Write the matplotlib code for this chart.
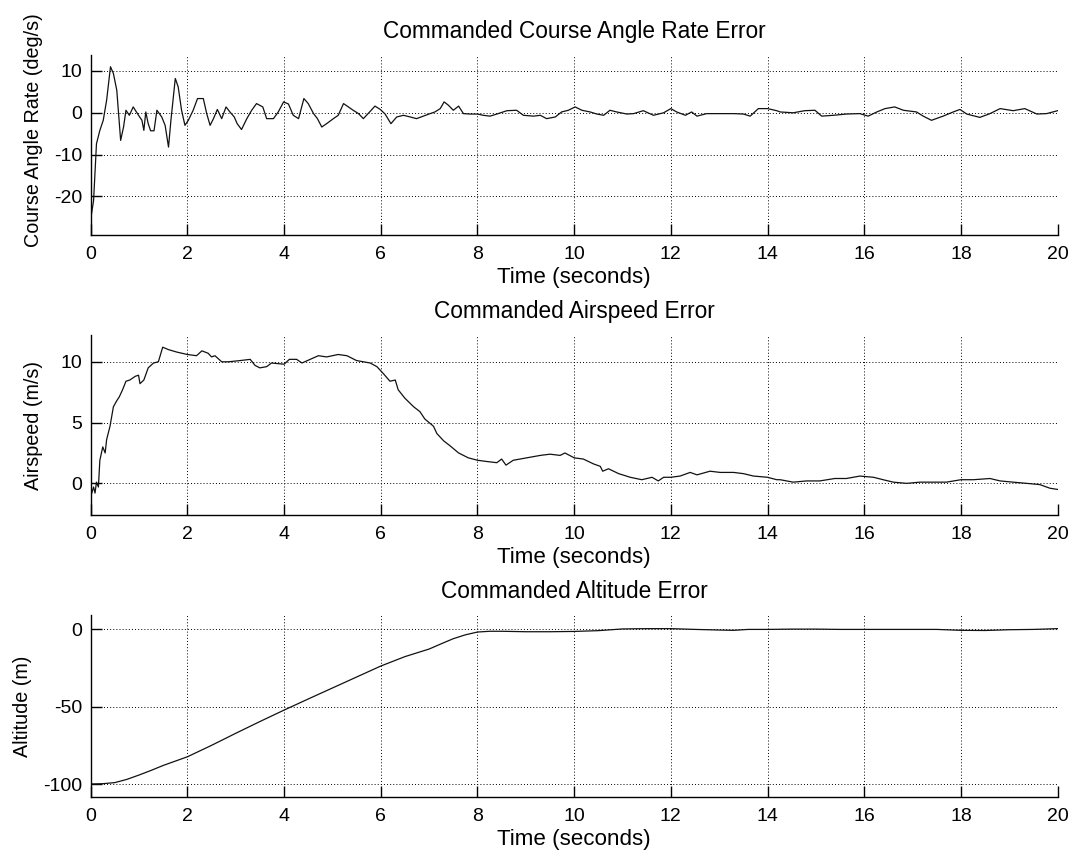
import matplotlib
matplotlib.use("Agg")
import matplotlib.pyplot as plt

plt.rcParams['font.family'] = ['Liberation Sans', 'DejaVu Sans']
plt.rcParams['font.size'] = 14
plt.rcParams['axes.unicode_minus'] = False

# course angle rate error (deg/s)
t_rate = [0.0, 0.06, 0.12, 0.19, 0.26, 0.33, 0.41, 0.47, 0.54, 0.62, 0.68, 0.73, 0.8,
          0.88, 0.99, 1.06, 1.1, 1.14, 1.19, 1.24, 1.31, 1.37, 1.47, 1.54, 1.61, 1.66,
          1.75, 1.81, 1.88, 1.95, 2.02, 2.12, 2.21, 2.33, 2.4, 2.47, 2.54, 2.62, 2.71,
          2.8, 2.88, 2.97, 3.03, 3.12, 3.23, 3.33, 3.43, 3.56, 3.64, 3.78, 3.88, 3.99,
          4.09, 4.19, 4.3, 4.41, 4.5, 4.61, 4.69, 4.78, 4.88, 5.02, 5.12, 5.23, 5.33,
          5.43, 5.54, 5.64, 5.77, 5.88, 5.99, 6.09, 6.21, 6.33, 6.47, 6.61, 6.74, 6.88,
          7.02, 7.12, 7.23, 7.31, 7.4, 7.5, 7.61, 7.71, 7.85, 8.0, 8.12, 8.26, 8.4,
          8.61, 8.81, 8.95, 9.16, 9.3, 9.43, 9.61, 9.74, 9.88, 10.02, 10.16, 10.33,
          10.47, 10.61, 10.74, 10.88, 11.09, 11.23, 11.43, 11.64, 11.85, 12.0, 12.12,
          12.3, 12.43, 12.54, 12.74, 13.02, 13.3, 13.5, 13.64, 13.81, 14.0, 14.19,
          14.26, 14.53, 14.77, 14.98, 15.12, 15.36, 15.63, 15.91, 16.08, 16.26, 16.43,
          16.63, 16.81, 17.08, 17.22, 17.39, 17.63, 17.84, 17.98, 18.12, 18.39, 18.6,
          18.81, 19.08, 19.32, 19.57, 19.77, 20.0]
rate_err = [-25.4, -21.0, -7.4, -4.2, -1.8, 3.0, 11.0, 9.4, 5.4, -6.6, -3.4, 0.6, -0.6,
            1.4, -0.6, -1.8, -4.2, 0.2, -2.6, -4.3, -4.3, 0.6, -1.0, -3.0, -8.2, -1.8,
            8.2, 6.2, 0.6, -3.0, -1.8, 0.6, 3.4, 3.4, -0.2, -3.0, -1.4, 0.8, -1.4,
            1.4, 0.2, -1.0, -2.6, -4.0, -1.4, 0.6, 2.2, 1.4, -1.4, -1.4, 0.2, 2.6,
            2.1, -0.6, -1.4, 3.4, 2.2, -0.2, -1.4, -3.4, -2.6, -1.4, -0.6, 2.2, 1.4,
            0.6, -0.2, -1.4, 0.2, 1.6, 0.8, -0.3, -2.6, -1.0, -0.6, -1.0, -1.4, -0.8,
            -0.2, 0.2, 1.0, 2.6, 1.8, 0.6, 1.6, -0.2, -0.3, -0.3, -0.6, -0.8, -0.3,
            0.5, 0.6, -0.6, -0.8, -0.6, -1.4, -1.0, 0.2, 0.6, 1.4, 0.6, 0.2,
            -0.3, -0.6, 0.6, 0.2, -0.3, -0.2, 0.5, -0.6, 0.0, 1.0, 0.2,
            -0.6, 0.2, -0.8, -0.2, -0.2, -0.2, -0.3, -0.8, 1.0, 1.0, 0.5,
            0.2, 0.0, 0.5, 0.6, -0.8, -0.6, -0.3, -0.2, -0.8, 0.2, 1.0,
            1.4, 0.6, 0.2, -0.8, -1.8, -0.8, 0.2, 0.8, -0.3, -1.1, -0.2,
            1.0, 0.5, 1.0, -0.3, -0.2, 0.5]

# airspeed error (m/s)
t_speed = [0.0, 0.06, 0.09, 0.12, 0.16, 0.19, 0.25, 0.3, 0.33, 0.4, 0.47, 0.54, 0.59,
           0.66, 0.73, 0.81, 0.92, 0.99, 1.02, 1.1, 1.19, 1.3, 1.4, 1.43, 1.49, 1.61,
           1.78, 2.0, 2.19, 2.3, 2.43, 2.5, 2.57, 2.71, 2.85, 3.09, 3.3, 3.4, 3.5, 3.64,
           3.74, 4.0, 4.11, 4.26, 4.37, 4.54, 4.71, 4.88, 5.12, 5.3, 5.5, 5.78, 5.92,
           6.06, 6.19, 6.3, 6.36, 6.5, 6.68, 6.81, 6.91, 7.09, 7.16, 7.3, 7.43, 7.61,
           7.81, 8.0, 8.19, 8.4, 8.5, 8.59, 8.74, 9.02, 9.3, 9.5, 9.71, 9.81, 10.0,
           10.19, 10.4, 10.54, 10.59, 10.71, 10.92, 11.16, 11.4, 11.61, 11.74, 11.85,
           12.0, 12.19, 12.4, 12.54, 12.81, 13.02, 13.3, 13.5, 13.71, 14.0, 14.19,
           14.26, 14.53, 14.81, 15.08, 15.39, 15.63, 15.91, 16.19, 16.39, 16.6, 16.88,
           17.15, 17.43, 17.7, 18.0, 18.26, 18.6, 18.81, 19.08, 19.36, 19.63, 19.84, 20.0]
speed_err = [-1.1, -0.3, -0.8, 0.1, -0.3, 1.9, 3.0, 2.5, 3.6, 4.7, 6.3, 6.8, 7.1,
             7.7, 8.4, 8.5, 8.8, 8.9, 8.2, 8.5, 9.5, 9.9, 10.0, 10.4, 11.2, 11.0,
             10.8, 10.6, 10.5, 10.9, 10.7, 10.4, 10.5, 10.0, 10.0, 10.1, 10.2, 9.7, 9.5, 9.6,
             9.9, 9.8, 10.2, 10.2, 9.9, 10.2, 10.5, 10.4, 10.6, 10.5, 10.1, 9.9, 9.6,
             9.0, 8.4, 8.5, 7.7, 7.0, 6.3, 5.9, 5.3, 4.7, 4.1, 3.5, 3.1, 2.5,
             2.1, 1.9, 1.8, 1.7, 2.0, 1.5, 1.9, 2.1, 2.3, 2.4, 2.3, 2.5, 2.1,
             2.0, 1.6, 1.4, 1.0, 1.2, 0.8, 0.5, 0.3, 0.5, 0.2, 0.5,
             0.5, 0.6, 0.9, 0.7, 1.0, 0.9, 0.9, 0.8, 0.6, 0.5, 0.3,
             0.3, 0.1, 0.2, 0.2, 0.4, 0.4, 0.6, 0.5, 0.3, 0.1, 0.0,
             0.1, 0.1, 0.1, 0.3, 0.3, 0.4, 0.2, 0.1, 0.0, -0.1, -0.4, -0.5]

# altitude error (m)
t_alt = [0.0, 0.25, 0.5, 0.75, 1.0, 1.25, 1.5, 2.0, 2.5, 3.0, 3.5, 4.0, 4.5, 5.0, 5.5,
         6.0, 6.5, 7.0, 7.25, 7.5, 7.75, 8.0, 8.25, 8.5, 9.0, 9.5, 10.0, 10.5, 11.0,
         11.5, 12.0, 12.5, 13.0, 13.3, 13.6, 14.0, 14.5, 15.0, 15.5, 16.0, 16.5, 17.0,
         17.5, 18.0, 18.5, 19.0, 19.5, 20.0]
alt_err = [-100.0, -99.8, -99.1, -97.0, -94.2, -91.2, -88.0, -82.4, -75.0, -67.2, -59.6,
           -52.2, -45.0, -37.9, -30.8, -23.7, -17.6, -12.7, -9.3, -6.0, -3.5, -1.7, -1.2,
           -1.2, -1.5, -1.5, -1.3, -0.8, 0.3, 0.5, 0.5, 0.0, -0.4, -0.6, 0.0, 0.0, 0.2,
           0.2, 0.0, 0.0, 0.0, 0.0, 0.0, -0.6, -0.7, -0.2, 0.0, 0.5]

# (x, y, title, ylabel, ylim, yticks, axes top/bottom, ylabel x/y in axes coords)
panels = [
    (t_rate, rate_err, 'Commanded Course Angle Rate Error', 'Course Angle Rate (deg/s)',
     (-29.2, 13.8), [-20, -10, 0, 10], (0.9357, 0.7255), (-0.049, 0.58)),
    (t_speed, speed_err, 'Commanded Airspeed Error', 'Airspeed (m/s)',
     (-2.6, 12.2), [0, 5, 10], (0.6086, 0.3984), (-0.049, 0.5)),
    (t_alt, alt_err, 'Commanded Altitude Error', 'Altitude (m)',
     (-108.2, 9.3), [-100, -50, 0], (0.2815, 0.0693), (-0.061, 0.5)),
]

fig = plt.figure(figsize=(10.73, 8.56), dpi=100)
left, right = 0.0845, 0.9857

for t, y, title, ylabel, ylim, yticks, (top, bottom), lab_xy in panels:
    ax = fig.add_axes([left, bottom, right - left, top - bottom])
    ax.plot(t, y, color='#111111', lw=0.9)
    ax.set_xlim(0, 20)
    ax.set_ylim(*ylim)
    ax.set_xticks(range(0, 21, 2))
    ax.set_yticks(yticks)
    ax.grid(True, color='black', lw=0.7, linestyle=(0, (1, 2.2)))
    ax.spines['top'].set_visible(False)
    ax.spines['right'].set_visible(False)
    ax.spines['left'].set_linewidth(1.0)
    ax.spines['bottom'].set_linewidth(1.0)
    ax.tick_params(direction='in', length=8, width=1.0, labelsize=14)
    ax.tick_params(axis='x', pad=8)
    ax.tick_params(axis='y', pad=6)
    ax.set_title(title, pad=12, fontsize=16.3)
    ax.set_xlabel('Time (seconds)', labelpad=3, fontsize=16.1)
    ax.set_ylabel(ylabel, fontsize=14.2)
    ax.yaxis.set_label_coords(*lab_xy)

fig.savefig('out.png', dpi=100, facecolor='white')
